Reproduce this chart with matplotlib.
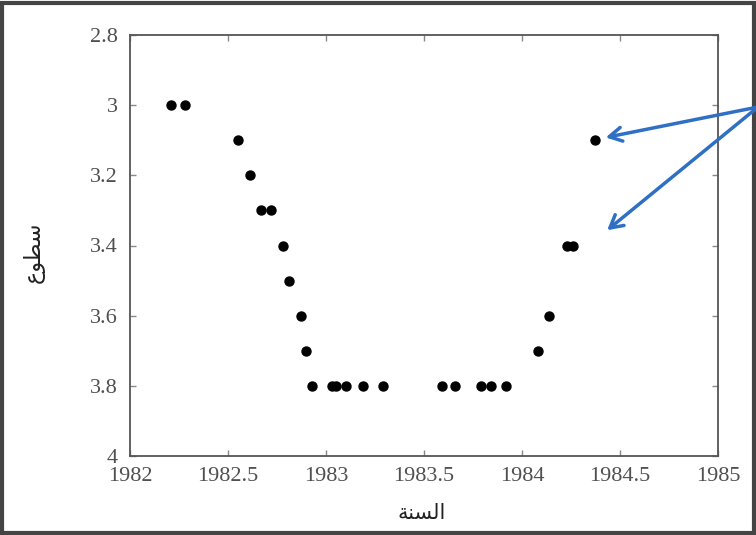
import matplotlib.pyplot as plt
from matplotlib.patches import Rectangle

# السنة / سطوع (presentation forms, visual order)
x_label = "\uFE94\uFEE8\uFEB4\uFEDF\uFE8D"
y_label = "\uFEC9\uFEEE\uFEC4\uFEB3"

years = [1982.21, 1982.28, 1982.55, 1982.61, 1982.67, 1982.72, 1982.78, 1982.81,
         1982.87, 1982.90, 1982.93, 1983.03, 1983.05, 1983.10, 1983.19, 1983.29,
         1983.59, 1983.66, 1983.79, 1983.84, 1983.92, 1984.08, 1984.14, 1984.23,
         1984.26, 1984.37]
brightness = [3.0, 3.0, 3.1, 3.2, 3.3, 3.3, 3.4, 3.5,
              3.6, 3.7, 3.8, 3.8, 3.8, 3.8, 3.8, 3.8,
              3.8, 3.8, 3.8, 3.8, 3.8, 3.7, 3.6, 3.4,
              3.4, 3.1]

x_ticks = [1982, 1982.5, 1983, 1983.5, 1984, 1984.5, 1985]
x_tick_labels = ['1982', '1982.5', '1983', '1983.5', '1984', '1984.5', '1985']
y_ticks = [2.8, 3.0, 3.2, 3.4, 3.6, 3.8, 4.0]
y_tick_labels = ['2.8', '3', '3.2', '3.4', '3.6', '3.8', '4']

fig = plt.figure(figsize=(7.56, 5.35), dpi=100)
ax = fig.add_axes([130/756, 1-456/535, 588/756, 421/535])

ax.scatter(years, brightness, s=42, color='black', zorder=3)

ax.set_xlim(1982, 1985)
ax.set_ylim(4, 2.8)
ax.set_xticks(x_ticks)
ax.set_xticklabels(x_tick_labels, family='Liberation Serif', fontsize=16, color='#505050')
ax.set_yticks(y_ticks)
ax.set_yticklabels(y_tick_labels, family='Liberation Serif', fontsize=16, color='#505050')
ax.tick_params(axis='x', pad=8)
ax.tick_params(axis='y', pad=9)
ax.tick_params(direction='in', top=True, right=True, length=4, width=1, color='#888888')
for s in ax.spines.values():
    s.set_color('#555555')
    s.set_linewidth(1.3)

fig.text(422/756, 1-513/535, x_label, family='DejaVu Sans', fontsize=15,
         ha='center', va='center', color='#222222')
fig.text(34/756, 1-252/535, y_label, family='DejaVu Sans', fontsize=16,
         ha='center', va='center', rotation=90, color='#222222')

# arrows from outside the right edge
blue = '#2f6fc4'
for tx, ty in [(603, 138), (605, 232)]:
    fig.add_artist(plt.Annotation('', xy=(tx/756, 1-ty/535), xycoords='figure fraction',
                                  xytext=(758/756, 1-107/535), textcoords='figure fraction',
                                  arrowprops=dict(arrowstyle='->,head_length=0.9,head_width=0.5',
                                                  color=blue, lw=2.5)))

fig.add_artist(Rectangle((0.002, 0.004), 0.996, 0.99, transform=fig.transFigure,
                         fill=False, edgecolor='#444444', lw=3))

fig.savefig('out.png', dpi=100)
